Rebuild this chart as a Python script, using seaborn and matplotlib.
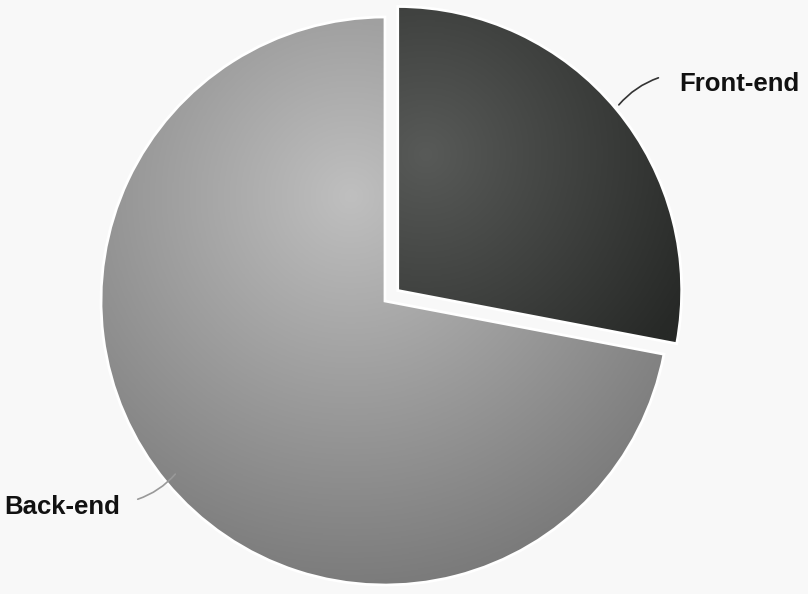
import numpy as np
import matplotlib
matplotlib.use("Agg")
import matplotlib.pyplot as plt
from matplotlib.colors import LinearSegmentedColormap
import seaborn as sns

# data
labels = ["Front-end", "Back-end"]
shares = [28, 72]
inner_colors = ["#585a58", "#bfbfbf"]
outer_colors = ["#272927", "#7a7a7a"]

sns.set_theme(style="white")
plt.rcParams['font.family'] = ['Liberation Sans', 'DejaVu Sans']

fig = plt.figure(figsize=(8.08, 5.94), dpi=100, facecolor="#f8f8f8")
ax = fig.add_axes([0, 0, 1, 1])
ax.set_facecolor("#f8f8f8")

explode = [0.058, 0]
wedges, _ = ax.pie(shares, startangle=90, counterclock=False, explode=explode,
                   wedgeprops=dict(edgecolor="white", linewidth=2))

# radial gradient fill for each slice (highlight sits above the slice centre)
hl_offsets = [(0.10, 0.48), (-0.12, 0.37)]
spreads = [1.05, 1.4]
xs = np.linspace(-1.2, 1.2, 600)
X, Y = np.meshgrid(xs, xs)
for w, c0, c1, (ox, oy), s in zip(wedges, inner_colors, outer_colors, hl_offsets, spreads):
    cx, cy = w.center
    R = np.sqrt((X - cx - ox) ** 2 + (Y - cy - oy) ** 2)
    cmap = LinearSegmentedColormap.from_list("g", [c0, c1])
    im = ax.imshow(R, cmap=cmap, vmin=0, vmax=s, extent=[-1.2, 1.2, -1.2, 1.2],
                   origin="lower", zorder=1, interpolation="bilinear")
    im.set_clip_path(w)
    w.set_facecolor("none")
    w.set_zorder(2)

# label leaders
ax.annotate("", xy=(0.817, 0.683), xytext=(0.972, 0.789),
            arrowprops=dict(arrowstyle="-", color="#333333", lw=1.2,
                            connectionstyle="arc3,rad=0.15"))
ax.text(1.035, 0.764, labels[0], fontsize=18.5, fontweight="bold",
        ha="left", va="center", color="#111111")

ax.annotate("", xy=(-0.732, -0.602), xytext=(-0.880, -0.701),
            arrowprops=dict(arrowstyle="-", color="#999999", lw=1.2,
                            connectionstyle="arc3,rad=0.15"))
ax.text(-0.933, -0.725, labels[1], fontsize=18.5, fontweight="bold",
        ha="right", va="center", color="#111111")

ax.set_aspect("auto")
ax.set_xlim(-385 / 284, (808 - 385) / 284)
ax.set_ylim(-(594 - 301) / 284, 301 / 284)
ax.axis("off")

fig.savefig("out.png", dpi=100, facecolor=fig.get_facecolor())
